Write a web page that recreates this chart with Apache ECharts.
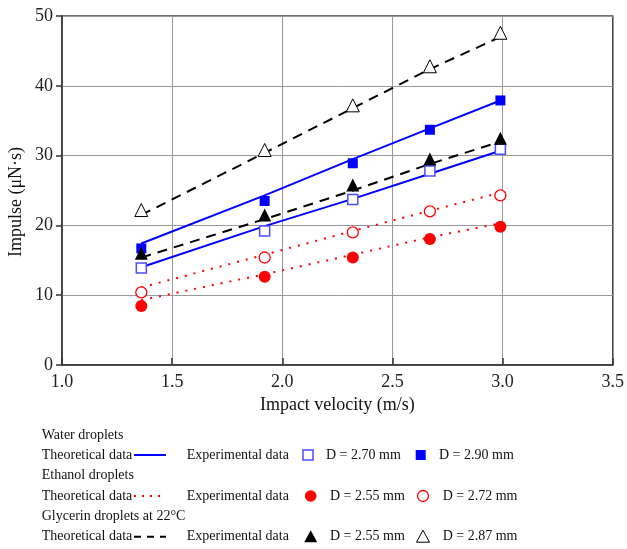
<!DOCTYPE html>
<html>
<head>
<meta charset="utf-8">
<script src="https://cdn.jsdelivr.net/npm/echarts@6/dist/echarts.min.js"></script>
<style>html,body{margin:0;padding:0;background:#fff}#c{width:627px;height:549px}</style>
</head>
<body>
<div id="c"></div>
<script>
// ---- data ----
var velocity = [1.36, 1.92, 2.32, 2.67, 2.99];
var waterTheory270 = [14.0, 19.9, 23.8, 27.4, 30.7];
var waterTheory290 = [17.4, 24.3, 29.5, 33.9, 37.9];
var waterExp270 = [13.9, 19.2, 23.7, 27.8, 30.9];
var waterExp290 = [16.7, 23.5, 28.9, 33.7, 37.9];
var ethanolTheory255 = [9.3, 13.0, 15.8, 18.3, 20.3];
var ethanolTheory272 = [11.1, 15.8, 19.2, 22.1, 24.7];
var ethanolExp255 = [8.45, 12.65, 15.4, 18.05, 19.8];
var ethanolExp272 = [10.4, 15.4, 19.0, 22.0, 24.3];
var glyTheory255 = [15.4, 20.9, 25.0, 28.8, 32.0];
var glyTheory287 = [21.5, 30.4, 36.8, 42.4, 47.0];
var glyExp255 = [16.0, 21.5, 25.8, 29.5, 32.5];
var glyExp287 = [22.2, 30.8, 37.2, 42.8, 47.6];
var xTicks = [1.0, 1.5, 2.0, 2.5, 3.0, 3.5];
var yTicks = [0, 10, 20, 30, 40, 50];

function pairs(ys){ return velocity.map(function(x,i){ return [x, ys[i]]; }); }

var FONT = '"Liberation Serif","Times New Roman",serif';
var BLUE = '#0000ff', OBLUE = '#4d4dff', RED = '#ff0000', BLK = '#000000';

function lineSeries(name, ys, color, dash, width){
  return {type:'line', name:name, data:pairs(ys), symbol:'none', silent:true, z:2,
    lineStyle:{color:color, width:width, type:dash}};
}
function scatterSeries(name, ys, symbol, size, fill, stroke, bw){
  return {type:'scatter', name:name, data:pairs(ys), symbol:symbol, symbolSize:size, z:3,
    itemStyle:{color:fill, borderColor:stroke, borderWidth:bw, opacity:1}};
}

// ---- legend graphics ----
var g = [];
function txt(s, x, y, size, extra){
  var o = {type:'text', x:x, y:y, style:{text:s, font: (size||14)+'px '+FONT, fill:'#111', verticalAlign:'middle', align:'left'}};
  if (extra) for (var k in extra) o.style[k] = extra[k];
  g.push(o);
}
function lseg(y, color, dash, w){
  g.push({type:'line', shape:{x1:134, y1:y, x2:166, y2:y}, style:{stroke:color, lineWidth:w, lineDash:dash}});
}
var rows = [455, 496, 536.7];
txt('Water droplets', 41.7, 435);
txt('Theoretical data', 41.7, rows[0]); lseg(rows[0], BLUE, null, 2);
txt('Experimental data', 186.7, rows[0]);
g.push({type:'rect', shape:{x:303, y:rows[0]-5, width:10, height:10}, style:{fill:'#fff', stroke:OBLUE, lineWidth:1.5}});
txt('D = 2.70 mm', 326, rows[0]);
g.push({type:'rect', shape:{x:415.7, y:rows[0]-5, width:10, height:10}, style:{fill:BLUE}});
txt('D = 2.90 mm', 439, rows[0]);

txt('Ethanol droplets', 41.7, 475);
txt('Theoretical data', 41.7, rows[1]); lseg(rows[1], RED, [2,6], 1.8);
txt('Experimental data', 186.7, rows[1]);
g.push({type:'circle', shape:{cx:310.7, cy:rows[1], r:5.8}, style:{fill:RED}});
txt('D = 2.55 mm', 330, rows[1]);
g.push({type:'circle', shape:{cx:423, cy:rows[1], r:5.5}, style:{fill:'#fff', stroke:RED, lineWidth:1.3}});
txt('D = 2.72 mm', 442.7, rows[1]);

txt('Glycerin droplets at 22\u00b0C', 41.7, 516.7);
txt('Theoretical data', 41.7, rows[2]); lseg(rows[2], BLK, [7,6], 2);
txt('Experimental data', 186.7, rows[2]);
g.push({type:'polygon', shape:{points:[[310.7,rows[2]-6.5],[317.2,rows[2]+5.5],[304.2,rows[2]+5.5]]}, style:{fill:BLK}});
txt('D = 2.55 mm', 330, rows[2]);
g.push({type:'polygon', shape:{points:[[423,rows[2]-6.5],[429.5,rows[2]+5.5],[416.5,rows[2]+5.5]]}, style:{fill:'#fff', stroke:BLK, lineWidth:1}});
txt('D = 2.87 mm', 442.7, rows[2]);

// y axis title
g.push({type:'text', x:16, y:202, rotation:Math.PI/2,
  style:{text:'Impulse (\u03bcN\u00b7s)', font:'18px '+FONT, fill:'#111', align:'center', verticalAlign:'middle'}});

var chart = echarts.init(document.getElementById('c'), null, {renderer:'canvas'});
chart.setOption({
  animation:false,
  backgroundColor:'#fff',
  graphic:g,
  grid:{left:62, top:16, right:11, bottom:184, show:true, borderColor:'#444', borderWidth:1.5, backgroundColor:'transparent'},
  xAxis:{type:'value', min:xTicks[0], max:xTicks[xTicks.length-1], interval:0.5,
    name:'Impact velocity (m/s)', nameLocation:'middle', nameGap:29,
    nameTextStyle:{fontFamily:FONT, fontSize:18, color:'#111'},
    axisLine:{show:true, lineStyle:{color:'#333', width:1.5}},
    axisTick:{show:true, inside:true, length:7, lineStyle:{color:'#333', width:1.5}},
    axisLabel:{margin:8, fontFamily:FONT, fontSize:18, color:'#222', formatter:function(v){return v.toFixed(1);}},
    splitLine:{show:true, lineStyle:{color:'#999', width:1}}},
  yAxis:{type:'value', min:yTicks[0], max:yTicks[yTicks.length-1], interval:10,
    axisLine:{show:true, lineStyle:{color:'#333', width:1.5}},
    axisTick:{show:true, inside:false, length:6, lineStyle:{color:'#333', width:1.5}},
    axisLabel:{margin:9, fontFamily:FONT, fontSize:18, color:'#222'},
    splitLine:{show:true, lineStyle:{color:'#999', width:1}}},
  series:[
    lineSeries('Water theory 2.70', waterTheory270, BLUE, 'solid', 2),
    lineSeries('Water theory 2.90', waterTheory290, BLUE, 'solid', 2),
    lineSeries('Ethanol theory 2.55', ethanolTheory255, RED, [2,7], 2),
    lineSeries('Ethanol theory 2.72', ethanolTheory272, RED, [2,7], 2),
    lineSeries('Glycerin theory 2.55', glyTheory255, BLK, [10,7], 2),
    lineSeries('Glycerin theory 2.87', glyTheory287, BLK, [10,7], 2),
    scatterSeries('Water D=2.70', waterExp270, 'rect', 10, '#fff', OBLUE, 1.5),
    scatterSeries('Water D=2.90', waterExp290, 'rect', 10, BLUE, BLUE, 0),
    scatterSeries('Ethanol D=2.55', ethanolExp255, 'circle', 12, RED, RED, 0),
    scatterSeries('Ethanol D=2.72', ethanolExp272, 'circle', 11, '#fff', RED, 1.3),
    scatterSeries('Glycerin D=2.55', glyExp255, 'triangle', 13, BLK, BLK, 0),
    scatterSeries('Glycerin D=2.87', glyExp287, 'triangle', 13, '#fff', BLK, 1)
  ]
});
</script>
</body>
</html>
